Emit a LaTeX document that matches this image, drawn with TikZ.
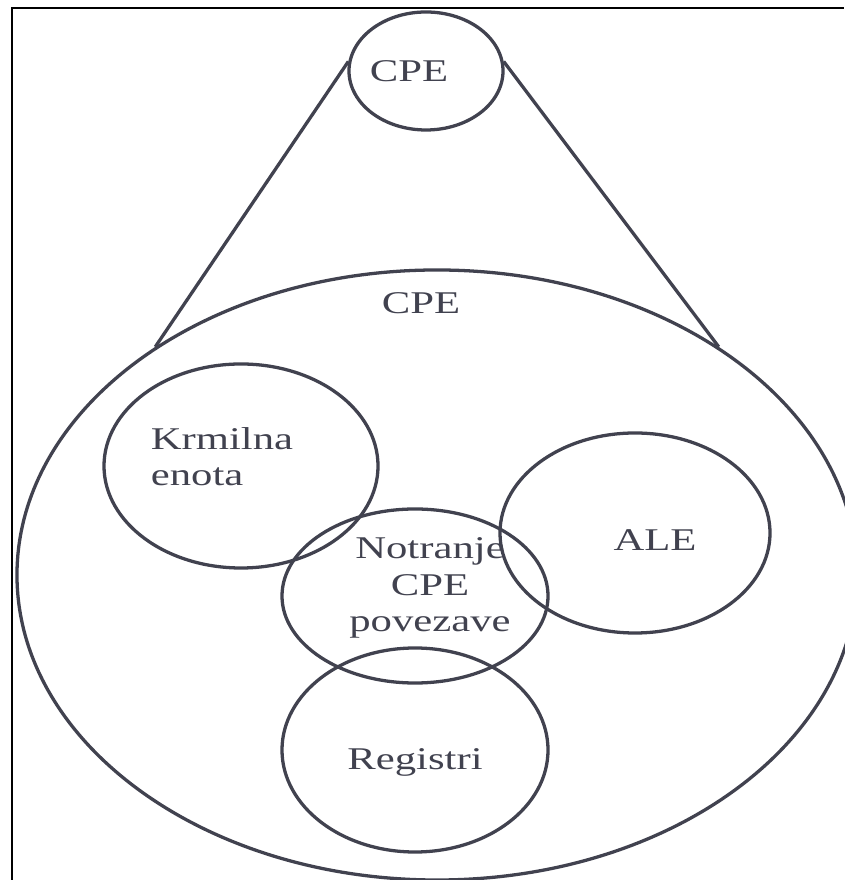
\documentclass[tikz,border=0pt]{standalone}
\usepackage{fontspec}
\setmainfont{Liberation Serif}[FakeStretch=1.35]
\usepackage{tikz}
\usetikzlibrary{shapes.geometric}
\definecolor{ink}{HTML}{41424F}

\begin{document}
\begin{tikzpicture}[x=0.03cm, y=0.03cm,
		blob/.style={draw=ink, line width=2.8pt, shape=ellipse, inner sep=0pt},
		txt/.style={text=ink, align=center, font=\fontsize{27}{31}\selectfont}]
		\useasboundingbox (0, 0) rectangle (844, 880);
		% Frame:
		\draw[black, line width=1.6pt] (12, 0) -- (12, 872) -- (844, 872);
		% Ellipses:
		\node[blob, minimum width=25.2cm, minimum height=18.3cm](cpu) at (437, 305){};
		\node[blob, minimum width=4.62cm, minimum height=3.54cm](cpe) at (426, 809){};
		\node[blob, minimum width=8.22cm, minimum height=6.12cm](krm) at (241, 414){};
		\node[blob, minimum width=7.98cm, minimum height=5.22cm](pov) at (415, 284){};
		\node[blob, minimum width=8.1cm, minimum height=6.0cm](ale) at (635, 347){};
		\node[blob, minimum width=7.98cm, minimum height=6.12cm](reg) at (415, 130){};
		% Texts:
		\node[txt](cpeT) at (409, 809){CPE};
		\node[txt](cpuT) at (421, 577){CPE};
		\node[txt, align=left](krmT) at (222, 423){Krmilna\\enota};
		\node[txt](povT) at (430, 292){Notranje\\CPE\\povezave};
		\node[txt](aleT) at (655, 340){ALE};
		\node[txt](regT) at (415, 118){Registri};
		% Lines:
		\draw[ink, line width=2.8pt] (cpe.173) -- (cpu.141.5);
		\draw[ink, line width=2.8pt] (cpe.7) -- (cpu.39);
	\end{tikzpicture}
\end{document}
